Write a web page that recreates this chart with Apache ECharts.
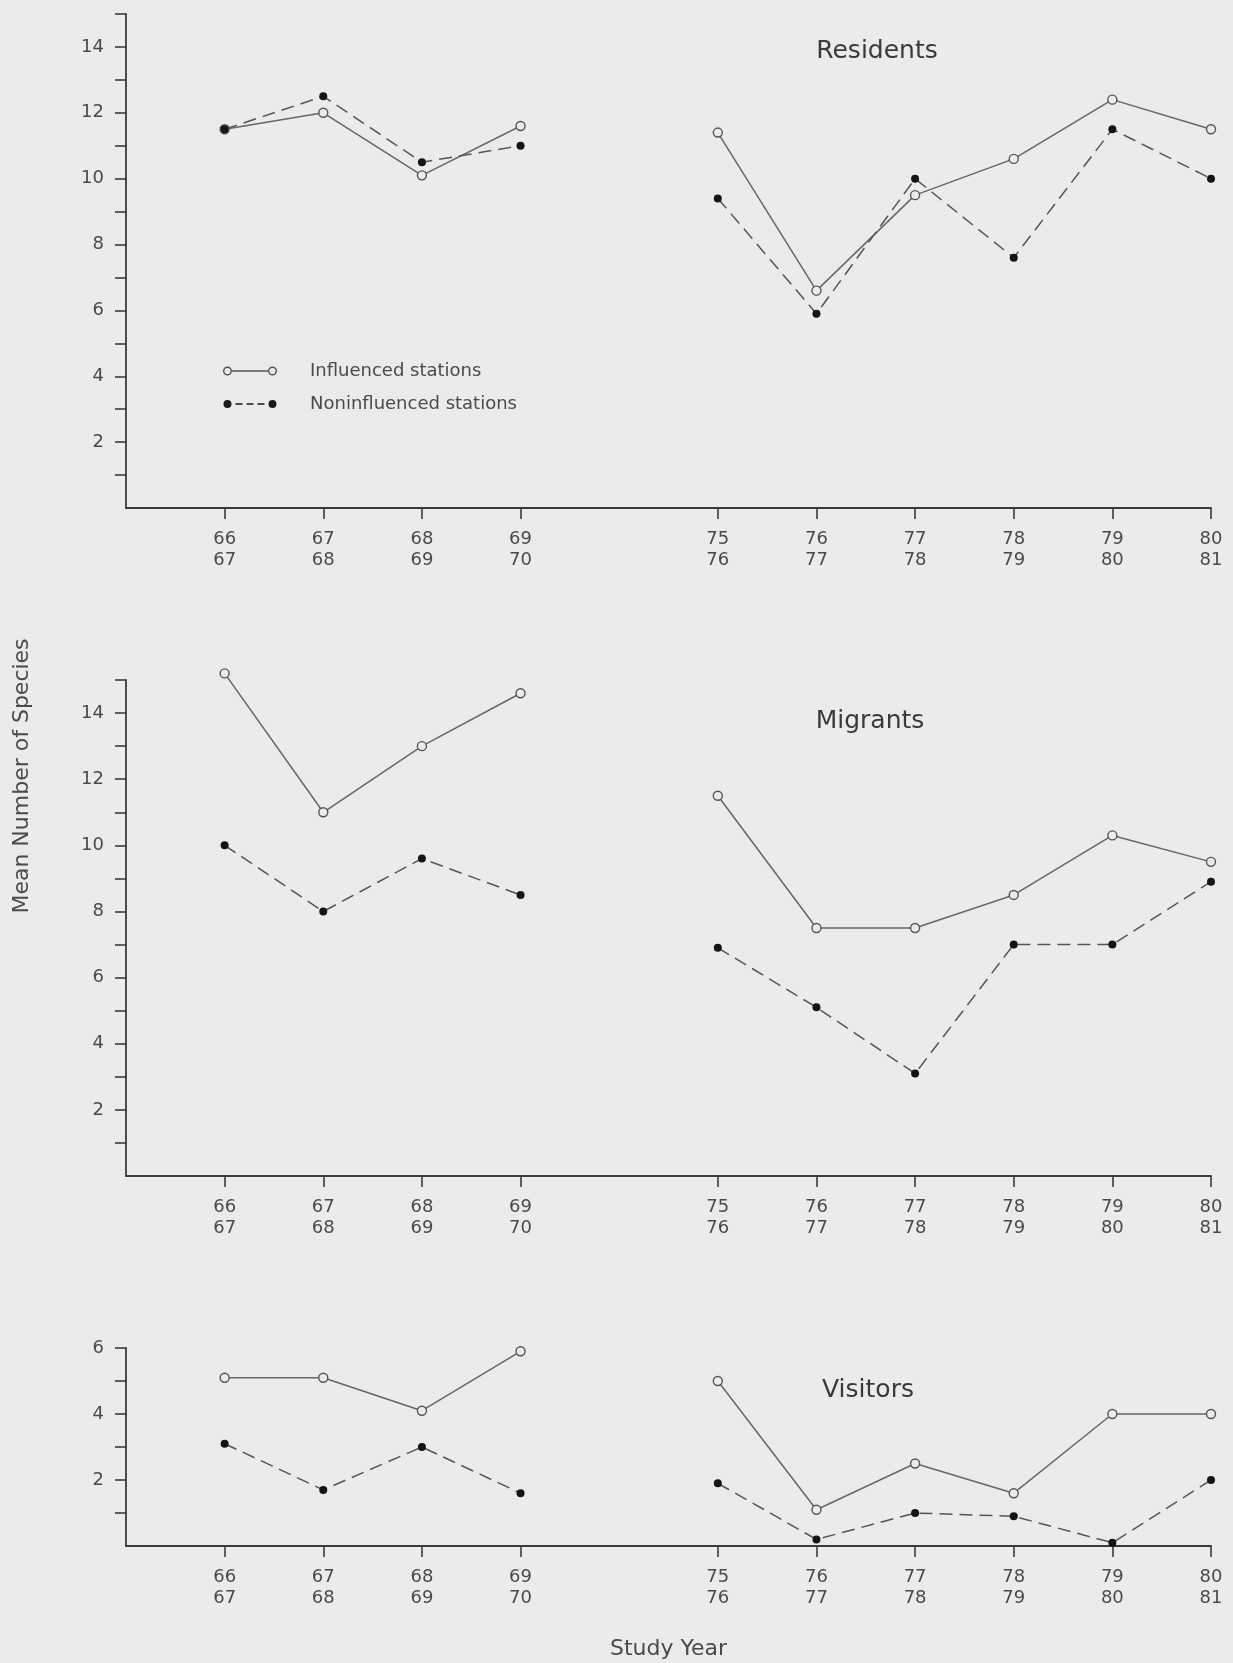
<!DOCTYPE html>
<html>
<head>
<meta charset="utf-8">
<script src="https://cdn.jsdelivr.net/npm/echarts@6/dist/echarts.min.js"></script>
<style>
  html, body { margin: 0; padding: 0; background: #ebebe9; }
  #chart { width: 1233px; height: 1663px; }
</style>
</head>
<body>
<div id="chart"></div>
<script>
// Study years (two sampling periods, 1966-70 and 1975-81)
const seasons = ['66\n67', '67\n68', '68\n69', '69\n70', '75\n76', '76\n77', '77\n78', '78\n79', '79\n80', '80\n81'];

// Mean number of species, residents
const residentsInfluenced    = [11.5, 12.0, 10.1, 11.6, 11.4, 6.6, 9.5, 10.6, 12.4, 11.5];
const residentsNoninfluenced = [11.5, 12.5, 10.5, 11.0, 9.4, 5.9, 10.0, 7.6, 11.5, 10.0];

// Mean number of species, migrants
const migrantsInfluenced    = [15.2, 11.0, 13.0, 14.6, 11.5, 7.5, 7.5, 8.5, 10.3, 9.5];
const migrantsNoninfluenced = [10.0, 8.0, 9.6, 8.5, 6.9, 5.1, 3.1, 7.0, 7.0, 8.9];

// Mean number of species, visitors
const visitorsInfluenced    = [5.1, 5.1, 4.1, 5.9, 5.0, 1.1, 2.5, 1.6, 4.0, 4.0];
const visitorsNoninfluenced = [3.1, 1.7, 3.0, 1.6, 1.9, 0.2, 1.0, 0.9, 0.1, 2.0];

// Y-axis ticks and labels
const ticks15  = [1, 2, 3, 4, 5, 6, 7, 8, 9, 10, 11, 12, 13, 14, 15];
const labels15 = [2, 4, 6, 8, 10, 12, 14];
const ticks6   = [1, 2, 3, 4, 5, 6];
const labels6  = [2, 4, 6];

const FONT = 'DejaVu Sans';
const INK = '#3b3b3b';
const TEXT = '#4a4a4a';
const BG = '#ebebe9';

// Empty slot before the first season and between the two study periods
function slotted(arr, blank) {
  return [blank].concat(arr.slice(0, 4), [blank], arr.slice(4));
}

const panels = [
  { title: 'Residents', infl: residentsInfluenced, non: residentsNoninfluenced, max: 15, ticks: ticks15, labels: labels15,
    grid: { top: 14, height: 494 }, titleX: 877, titleY: 39 },
  { title: 'Migrants', infl: migrantsInfluenced, non: migrantsNoninfluenced, max: 15, ticks: ticks15, labels: labels15,
    grid: { top: 680, height: 496 }, titleX: 870, titleY: 709 },
  { title: 'Visitors', infl: visitorsInfluenced, non: visitorsNoninfluenced, max: 6, ticks: ticks6, labels: labels6,
    grid: { top: 1348, height: 198 }, titleX: 868, titleY: 1378 }
];

const grid = [], xAxis = [], yAxis = [], series = [], graphic = [];

panels.forEach((p, i) => {
  grid.push({ left: 126, right: 22, top: p.grid.top, height: p.grid.height });

  const xa = {
    type: 'category',
    gridIndex: i,
    data: slotted(seasons, ''),
    boundaryGap: false,
    axisLine: { lineStyle: { color: INK, width: 1.8 } },
    axisTick: { length: 11, interval: (idx, v) => v !== '', lineStyle: { color: INK, width: 1.6 } },
    axisLabel: { interval: 0, margin: 21, fontFamily: FONT, fontSize: 18, lineHeight: 21, color: TEXT },
    splitLine: { show: false }
  };
  if (i === 2) {
    xa.name = 'Study Year';
    xa.nameLocation = 'middle';
    xa.nameGap = 92;
    xa.nameTextStyle = { fontFamily: FONT, fontSize: 22, color: TEXT };
  }
  xAxis.push(xa);

  yAxis.push({
    type: 'value',
    gridIndex: i,
    min: 0,
    max: p.max,
    interval: 1,
    axisLine: { show: true, lineStyle: { color: INK, width: 1.8 } },
    axisTick: { show: true, length: 11, customValues: p.ticks, lineStyle: { color: INK, width: 1.6 } },
    axisLabel: {
      customValues: p.labels, margin: 22, fontFamily: FONT, fontSize: 18, color: TEXT,
      formatter: v => (v > 0 && v % 2 === 0) ? String(v) : ''
    },
    splitLine: { show: false }
  });

  series.push({
    name: 'Influenced stations',
    type: 'line',
    xAxisIndex: i, yAxisIndex: i,
    data: slotted(p.infl, null),
    symbol: 'circle',
    symbolSize: 9,
    showAllSymbol: true,
    clip: false,
    itemStyle: { color: BG, borderColor: '#555', borderWidth: 1.4 },
    lineStyle: { color: '#666', width: 1.5, type: 'solid' },
    emphasis: { disabled: true },
    z: 3
  });
  series.push({
    name: 'Noninfluenced stations',
    type: 'line',
    xAxisIndex: i, yAxisIndex: i,
    data: slotted(p.non, null),
    symbol: 'circle',
    symbolSize: 8,
    showAllSymbol: true,
    clip: false,
    itemStyle: { color: '#141414' },
    lineStyle: { color: '#555', width: 1.5, type: [13, 7] },
    emphasis: { disabled: true },
    z: 4
  });

  graphic.push({
    type: 'text', x: p.titleX, y: p.titleY,
    style: { text: p.title, align: 'center', verticalAlign: 'top', font: '25px "' + FONT + '"', fill: '#3a3a3a' }
  });
});

// Shared y-axis caption
graphic.push({
  type: 'text', x: 22, y: 776, rotation: Math.PI / 2,
  style: { text: 'Mean Number of Species', align: 'center', verticalAlign: 'middle', font: '22px "' + FONT + '"', fill: TEXT }
});

// Legend keys: marker, connecting line, marker
const ringL = 'M0,4.5 A4.5,4.5 0 1 1 9,4.5 A4.5,4.5 0 1 1 0,4.5 Z M1.4,4.5 A3.1,3.1 0 1 0 7.6,4.5 A3.1,3.1 0 1 0 1.4,4.5 Z';
const ringR = 'M45,4.5 A4.5,4.5 0 1 1 54,4.5 A4.5,4.5 0 1 1 45,4.5 Z M46.4,4.5 A3.1,3.1 0 1 0 52.6,4.5 A3.1,3.1 0 1 0 46.4,4.5 Z';
const solidBar = 'M9,3.8 L45,3.8 L45,5.2 L9,5.2 Z';
const dotL = 'M0.5,4.5 A4,4 0 1 1 8.5,4.5 A4,4 0 1 1 0.5,4.5 Z';
const dotR = 'M45.5,4.5 A4,4 0 1 1 53.5,4.5 A4,4 0 1 1 45.5,4.5 Z M0,0.01 L0.01,0.01 L0,0 Z M54,8.99 L53.99,8.99 L54,9 Z';
const dashes = 'M12.5,3.8 L19.5,3.8 L19.5,5.2 L12.5,5.2 Z M23.5,3.8 L30.5,3.8 L30.5,5.2 L23.5,5.2 Z M34.5,3.8 L41.5,3.8 L41.5,5.2 L34.5,5.2 Z';

const option = {
  backgroundColor: BG,
  animation: false,
  grid, xAxis, yAxis, series, graphic,
  legend: {
    left: 218,
    top: 356,
    orient: 'vertical',
    itemWidth: 54,
    itemHeight: 9,
    itemGap: 13,
    selectedMode: false,
    data: [
      { name: 'Influenced stations', icon: 'path://' + ringL + ' ' + solidBar + ' ' + ringR,
        itemStyle: { color: '#555', borderWidth: 0 } },
      { name: 'Noninfluenced stations', icon: 'path://' + dotL + ' ' + dashes + ' ' + dotR,
        itemStyle: { color: '#1a1a1a', borderWidth: 0 } }
    ],
    textStyle: { fontFamily: FONT, fontSize: 18, lineHeight: 20, color: TEXT, padding: [0, 0, 0, 28] }
  }
};

const chart = echarts.init(document.getElementById('chart'), null, { renderer: 'canvas' });
chart.setOption(option);
</script>
</body>
</html>
